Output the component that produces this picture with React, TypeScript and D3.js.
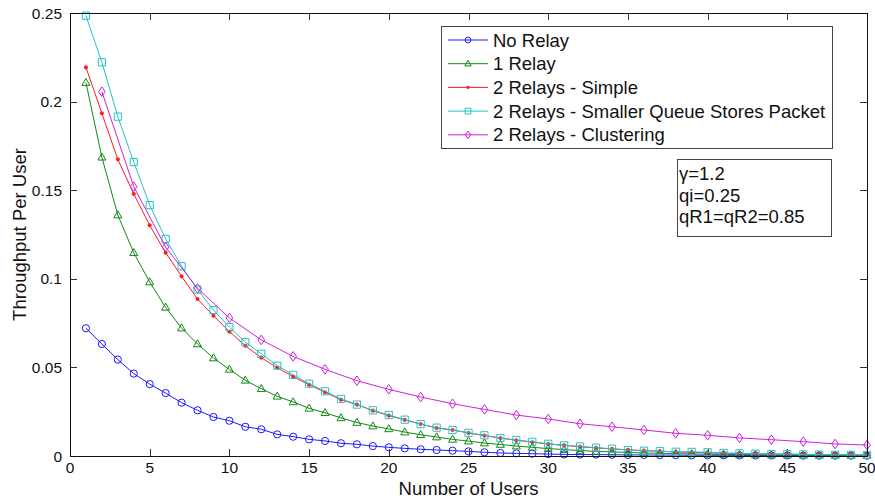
import React from "react";
import * as d3 from "d3";

const users = [1,2,3,4,5,6,7,8,9,10,11,12,13,14,15,16,17,18,19,20,21,22,23,24,25,26,27,28,29,30,31,32,33,34,35,36,37,38,39,40,41,42,43,44,45,46,47,48,49,50];

const noRelay = [0.0721,0.0632,0.0544,0.0465,0.0406,0.0355,0.0301,0.0258,0.0220,0.0199,0.0165,0.0151,0.0122,0.0109,0.0094,0.0085,0.0072,0.0066,0.0056,0.0049,0.0043,0.0038,0.0034,0.0030,0.0026,0.0021,0.0017,0.0015,0.0013,0.0011,0.0009,0.0008,0.0008,0.0007,0.0006,0.0006,0.0005,0.0005,0.0004,0.0004,0.0004,0.0003,0.0003,0.0003,0.0003,0.0002,0.0002,0.0002,0.0002,0.0002];

const oneRelay = [0.2107,0.1686,0.1360,0.1147,0.0982,0.0839,0.0722,0.0632,0.0553,0.0489,0.0427,0.0380,0.0337,0.0305,0.0269,0.0244,0.0215,0.0189,0.0169,0.0153,0.0135,0.0120,0.0107,0.0094,0.0084,0.0073,0.0065,0.0056,0.0049,0.0042,0.0036,0.0031,0.0026,0.0023,0.0020,0.0017,0.0015,0.0013,0.0012,0.0010,0.0009,0.0008,0.0007,0.0006,0.0006,0.0005,0.0004,0.0004,0.0003,0.0003];

const twoSimple = [0.2193,0.1934,0.1674,0.1479,0.1302,0.1147,0.1014,0.0886,0.0792,0.0702,0.0622,0.0555,0.0498,0.0448,0.0402,0.0360,0.0318,0.0290,0.0256,0.0228,0.0204,0.0180,0.0158,0.0147,0.0130,0.0115,0.0101,0.0089,0.0078,0.0068,0.0060,0.0052,0.0046,0.0040,0.0035,0.0030,0.0027,0.0023,0.0021,0.0018,0.0016,0.0014,0.0012,0.0011,0.0010,0.0009,0.0008,0.0007,0.0006,0.0005];

const twoQueue = [0.2485,0.2222,0.1915,0.1659,0.1416,0.1225,0.1071,0.0939,0.0824,0.0728,0.0642,0.0577,0.0510,0.0458,0.0408,0.0365,0.0322,0.0290,0.0258,0.0231,0.0205,0.0180,0.0160,0.0147,0.0131,0.0117,0.0101,0.0090,0.0080,0.0069,0.0060,0.0054,0.0047,0.0041,0.0034,0.0030,0.0027,0.0024,0.0023,0.0021,0.0017,0.0015,0.0013,0.0011,0.0011,0.0009,0.0008,0.0007,0.0007,0.0006];

const clusterUsers = [2,4,6,8,10,12,14,16,18,20,22,24,26,28,30,32,34,36,38,40,42,44,46,48,50];
const clustering = [0.2056,0.1520,0.1179,0.0946,0.0779,0.0655,0.0562,0.0489,0.0425,0.0376,0.0333,0.0295,0.0263,0.0231,0.0209,0.0182,0.0165,0.0147,0.0128,0.0117,0.0102,0.0092,0.0081,0.0068,0.0062];

const seriesNames = ["No Relay", "1 Relay", "2 Relays - Simple", "2 Relays - Smaller Queue Stores Packet", "2 Relays - Clustering"];
const xTicks = [0,5,10,15,20,25,30,35,40,45,50];
const yTicks = [0,0.05,0.1,0.15,0.2,0.25];
const yTickLabels = ["0","0.05","0.1","0.15","0.2","0.25"];
const annotationLines = ["\u03B3=1.2", "qi=0.25", "qR1=qR2=0.85"];

const W = 875, H = 502;
const L = 70, R = 867, T = 13, B = 456;
const FONT = "'Liberation Sans', Arial, Helvetica, sans-serif";

type Marker = "circle" | "triangle" | "dot" | "square" | "diamond";

function markerPath(m: Marker, s: number): string {
  switch (m) {
    case "circle": {
      const r = 3.6 * s;
      return `M${-r},0A${r},${r} 0 1,0 ${r},0A${r},${r} 0 1,0 ${-r},0Z`;
    }
    case "triangle":
      return `M0,${-4.2 * s}L${4 * s},${2.8 * s}L${-4 * s},${2.8 * s}Z`;
    case "square": {
      const h = 3.6 * s;
      return `M${-h},${-h}L${h},${-h}L${h},${h}L${-h},${h}Z`;
    }
    case "diamond":
      return `M0,${-4.8 * s}L${3.3 * s},0L0,${4.8 * s}L${-3.3 * s},0Z`;
    case "dot": {
      const r = 1.8 * s;
      return `M${-r},0A${r},${r} 0 1,0 ${r},0A${r},${r} 0 1,0 ${-r},0Z`;
    }
  }
}

export default function App() {
  const x = d3.scaleLinear().domain([0, 50]).range([L, R]);
  const y = d3.scaleLinear().domain([0, 0.25]).range([B, T]);

  const series = [
    { name: seriesNames[0], xs: users, ys: noRelay, color: "#1a1aff", marker: "circle" as Marker },
    { name: seriesNames[1], xs: users, ys: oneRelay, color: "#108a10", marker: "triangle" as Marker },
    { name: seriesNames[2], xs: users, ys: twoSimple, color: "#ff1a1a", marker: "dot" as Marker },
    { name: seriesNames[3], xs: users, ys: twoQueue, color: "#22c4c4", marker: "square" as Marker },
    { name: seriesNames[4], xs: clusterUsers, ys: clustering, color: "#cc22dd", marker: "diamond" as Marker },
  ];

  const line = d3.line<[number, number]>().x(d => x(d[0])).y(d => y(d[1]));
  const tickLen = 7;

  const legX = 441, legY = 26, legW = 391, legH = 122;
  const legRow0 = 40, legStep = 23.7;

  return (
    <svg width={W} height={H} style={{ position: "absolute", left: 0, top: 0, background: "#fff" }} fontFamily={FONT}>
      <rect x={0} y={0} width={W} height={H} fill="#fff" />
      {/* ticks */}
      <g stroke="#333" strokeWidth={1}>
        {xTicks.map(t => (
          <g key={"xt" + t}>
            <line x1={Math.round(x(t)) + 0.5} x2={Math.round(x(t)) + 0.5} y1={B} y2={B - tickLen} />
            <line x1={Math.round(x(t)) + 0.5} x2={Math.round(x(t)) + 0.5} y1={T} y2={T + tickLen} />
          </g>
        ))}
        {yTicks.map(t => (
          <g key={"yt" + t}>
            <line x1={L} x2={L + tickLen} y1={Math.round(y(t)) + 0.5} y2={Math.round(y(t)) + 0.5} />
            <line x1={R} x2={R - tickLen} y1={Math.round(y(t)) + 0.5} y2={Math.round(y(t)) + 0.5} />
          </g>
        ))}
      </g>
      {/* series */}
      {series.map(s => {
        const pts: [number, number][] = s.xs.map((xv, i) => [xv, s.ys[i]]);
        return (
          <g key={s.name}>
            <path d={line(pts) || ""} fill="none" stroke={s.color} strokeWidth={1} />
            {pts.map((p, i) => (
              <path key={i} d={markerPath(s.marker, 1)} transform={`translate(${x(p[0])},${y(p[1])})`}
                fill={s.marker === "dot" ? s.color : "none"} stroke={s.color} strokeWidth={s.marker === "dot" ? 0.5 : 1} />
            ))}
          </g>
        );
      })}
      {/* axes box */}
      <rect x={L + 0.5} y={T + 0.5} width={R - L} height={B - T} fill="none" stroke="#111" strokeWidth={1} />
      {/* tick labels */}
      <g fontSize={15.5} fill="#111">
        {xTicks.map(t => (
          <text key={"xl" + t} x={x(t)} y={473} textAnchor="middle">{t}</text>
        ))}
        {yTicks.map((t, i) => (
          <text key={"yl" + t} x={62} y={y(t)} textAnchor="end" dominantBaseline="central">{yTickLabels[i]}</text>
        ))}
      </g>
      {/* axis labels */}
      <text x={(L + R) / 2} y={495} textAnchor="middle" fontSize={18.5} fill="#111">Number of Users</text>
      <text transform={`translate(26,${(T + B) / 2}) rotate(-90)`} textAnchor="middle" fontSize={18.5} fill="#111">Throughput Per User</text>
      {/* legend */}
      <rect x={legX + 0.5} y={legY + 0.5} width={legW} height={legH} fill="#fff" stroke="#444" strokeWidth={1} />
      {series.map((s, i) => {
        const cy = legRow0 + i * legStep;
        return (
          <g key={"lg" + i}>
            <line x1={448} x2={488} y1={cy} y2={cy} stroke={s.color} strokeWidth={1} />
            <path d={markerPath(s.marker, 0.8)} transform={`translate(468,${cy})`}
              fill={s.marker === "dot" ? s.color : "none"} stroke={s.color} strokeWidth={s.marker === "dot" ? 0.5 : 1} />
            <text x={493} y={cy} dominantBaseline="central" fontSize={18.5} fill="#111">{s.name}</text>
          </g>
        );
      })}
      {/* annotation */}
      <rect x={677.5} y={159.5} width={154} height={77} fill="#fff" stroke="#444" strokeWidth={1} />
      {annotationLines.map((t, i) => (
        <text key={"an" + i} x={679} y={173.5 + i * 21.7} dominantBaseline="central" fontSize={18.5} fill="#111">{t}</text>
      ))}
    </svg>
  );
}
